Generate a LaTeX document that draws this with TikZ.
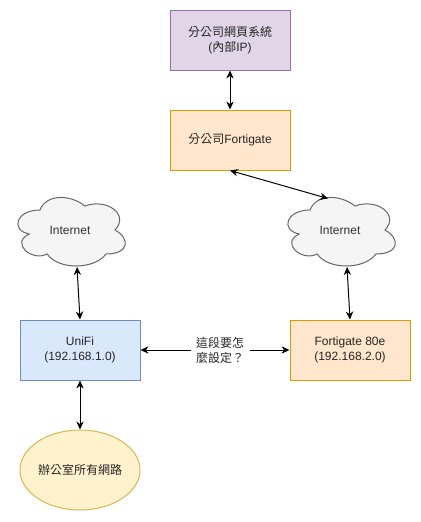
\documentclass[tikz,border=0pt]{standalone}
\usepackage{fontspec}
\setmainfont{Liberation Sans}
\newfontfamily\cjk{Noto Sans CJK TC}
\usetikzlibrary{arrows.meta,shapes.geometric}
\definecolor{purplefill}{HTML}{E1D5E7}
\definecolor{purpleline}{HTML}{9673A6}
\definecolor{orangefill}{HTML}{FFE6CC}
\definecolor{orangeline}{HTML}{D79B00}
\definecolor{bluefill}{HTML}{DAE8FC}
\definecolor{blueline}{HTML}{6C8EBF}
\definecolor{yellowfill}{HTML}{FFF2CC}
\definecolor{yellowline}{HTML}{D6B656}
\definecolor{cloudfill}{HTML}{F5F5F5}
\definecolor{cloudline}{HTML}{666666}
\begin{document}
\begin{tikzpicture}[x=0.75pt, y=-0.75pt, line width=0.75pt,
    every node/.style={inner sep=0pt, align=center, text=black!85, font=\fontsize{9}{11.25}\selectfont},
    netbox/.style={rectangle, draw, minimum width=90pt, minimum height=45pt},
    link/.style={{Stealth[length=6pt,width=5.5pt]}-{Stealth[length=6pt,width=5.5pt]}, black},
    netcloud/.pic={
        \draw[draw=cloudline, fill=cloudfill] (30,20) .. controls (6,20) and (0,40) .. (19.2,44)
            .. controls (0,52.8) and (21.6,72) .. (37.2,64)
            .. controls (48,80) and (84,80) .. (96,64)
            .. controls (120,64) and (120,48) .. (105,40)
            .. controls (120,24) and (96,8) .. (75,16)
            .. controls (60,4) and (36,4) .. (30,20) -- cycle;
        \node[text=black!80] (-text) at (60,40) {Internet};
        \coordinate (-top) at (48,8.5);
        \coordinate (-bottom) at (67,77);
    }]
    \useasboundingbox (0,0) rectangle (421,522);
    \node[netbox, draw=purpleline, fill=purplefill] (web) at (230,40) {{\cjk 分公司網頁系統}\\({\cjk 內部}IP)};
    \node[netbox, draw=orangeline, fill=orangefill] (branchfg) at (230,140) {{\cjk 分公司}Fortigate};
    \pic (netleft) at (10,190) {netcloud};
    \pic (netright) at (280,190) {netcloud};
    \node[netbox, draw=blueline, fill=bluefill] (unifi) at (80,350) {UniFi\\(192.168.1.0)};
    \node[netbox, draw=orangeline, fill=orangefill] (fg80e) at (350,350) {Fortigate 80e\\(192.168.2.0)};
    \node[ellipse, draw=yellowline, fill=yellowfill, minimum width=90pt, minimum height=60pt] (office) at (80,470) {\cjk 辦公室所有網路};

    \draw[link] (web) -- (branchfg);
    \draw[link] (branchfg.south) -- (netright-top);
    \draw[link] (netleft-bottom) -- (unifi.north);
    \draw[link] (netright-bottom) -- (fg80e.north);
    \draw[link] (unifi) -- node[pos=.535, fill=white, minimum width=44pt, minimum height=26pt] (ask) {\cjk 這段要怎\\\cjk 麼設定？} (fg80e);
    \draw[link] (unifi) -- (office);
\end{tikzpicture}
\end{document}
